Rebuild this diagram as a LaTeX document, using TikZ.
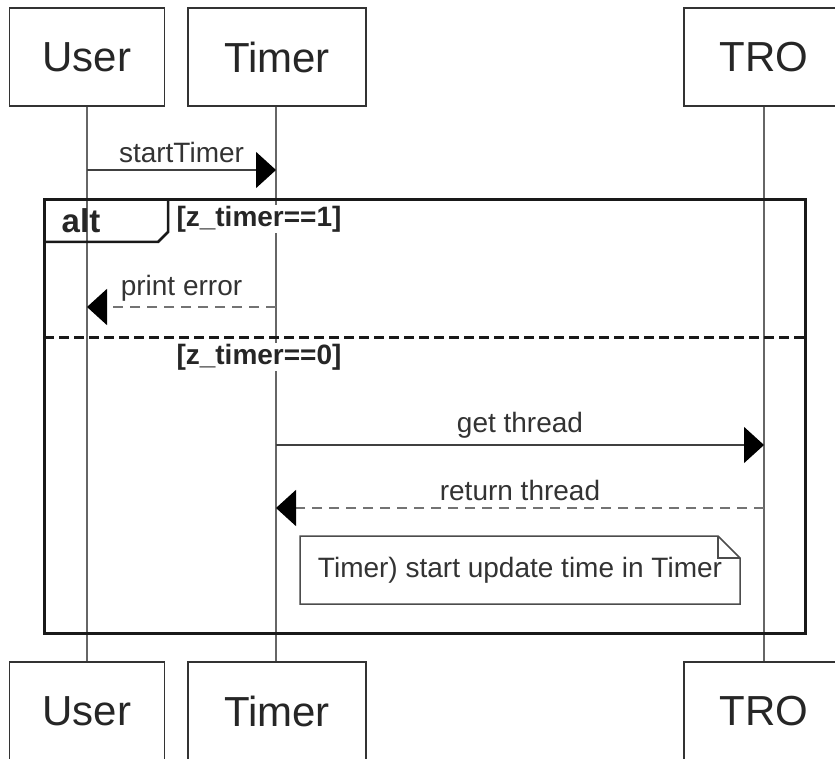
\documentclass[tikz,border=0pt]{standalone}
\usepackage{fontspec}
\setmainfont{Liberation Sans}
\usetikzlibrary{arrows.meta}

\tikzset{
  actor/.style={draw=black!80, line width=1.5pt, fill=white, minimum height=98pt,
    font=\fontsize{42}{50}\selectfont, text=black!85},
  lifeline/.style={draw=black!60, line width=1.5pt},
  msg/.style={draw=black!75, line width=1.6pt, -{Triangle[length=20pt,width=36pt,color=black]}},
  reply/.style={msg, draw=black!55, dash pattern=on 10pt off 7pt},
  msglabel/.style={font=\fontsize{28}{32}\selectfont, text=black!80, inner sep=0pt},
  guard/.style={font=\bfseries\fontsize{28}{32}\selectfont, text=black!85, inner sep=1pt, fill=white},
  frame/.style={draw=black!90, line width=3pt},
}

\begin{document}
\begin{tikzpicture}[x=1pt,y=-1pt]
  \useasboundingbox (0,0) rectangle (835,759);

  % participants, top and bottom
  \node[actor, minimum width=155pt] (user) at (87,57) {User};
  \node[actor, minimum width=178pt] (timer) at (277,57) {Timer};
  \node[actor, minimum width=160pt] (tro) at (764,57) {TRO};
  \node[actor, minimum width=155pt] (userb) at (87,711) {User};
  \node[actor, minimum width=178pt] (timerb) at (277,711) {Timer};
  \node[actor, minimum width=160pt] (trob) at (764,711) {TRO};

  % lifelines
  \draw[lifeline] (user) -- (userb);
  \draw[lifeline] ([xshift=-1pt]timer.south) -- ([xshift=-1pt]timerb.north);
  \draw[lifeline] (tro) -- (trob);

  % call before the fragment
  \coordinate (st1) at (87,170);
  \coordinate (st2) at (276,170);
  \draw[msg] (st1) -- (st2) node[msglabel, midway, above=6pt] {startTimer};

  % alt fragment
  \draw[frame] (44,200) rectangle (805,633);
  \draw[frame, line width=2.5pt] (44,242) -- (158,242) -- (168,232) -- (168,200);
  \node[font=\bfseries\fontsize{33}{38}\selectfont, text=black!85] (alt) at (81,221) {alt};
  \node[guard] (g1) at (259,219) {[z\_timer==1]};

  \coordinate (pe1) at (276,307);
  \coordinate (pe2) at (87,307);
  \draw[reply] (pe1) -- (pe2) node[msglabel, midway, above=5pt] {print error};

  \draw[frame, dash pattern=on 10pt off 5pt] (44,337) -- (805,337);
  \node[guard] (g0) at (259,357) {[z\_timer==0]};

  \coordinate (gt1) at (276,445);
  \coordinate (gt2) at (764,445);
  \draw[msg] (gt1) -- (gt2) node[msglabel, midway, above=6pt] {get thread};

  \coordinate (rt1) at (764,508);
  \coordinate (rt2) at (276,508);
  \draw[reply] (rt1) -- (rt2) node[msglabel, midway, above=6pt] {return thread};

  % note
  \draw[draw=black!70, line width=1.5pt, fill=white] (300,536) -- (718,536) -- (740,558) -- (740,604) -- (300,604) -- cycle;
  \draw[draw=black!70, line width=1.5pt] (718,536) -- (718,558) -- (740,558);
  \node[msglabel] (note) at (520,570) {Timer) start update time in Timer};
\end{tikzpicture}
\end{document}
